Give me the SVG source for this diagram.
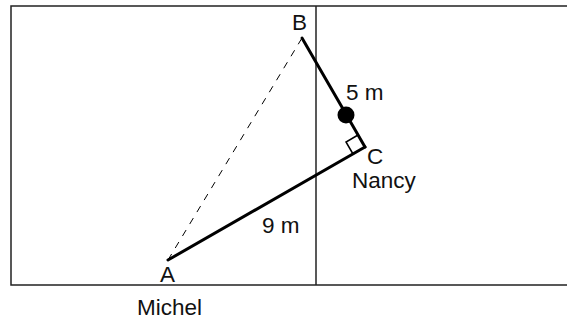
<svg xmlns="http://www.w3.org/2000/svg" width="567" height="320" viewBox="0 0 567 320">
<style>
.frame{fill:none;stroke:#222;stroke-width:1.5}
.thick{fill:none;stroke:#000;stroke-width:3;stroke-linecap:round}
.dash{fill:none;stroke:#000;stroke-width:1;stroke-dasharray:7 7}
.thin{fill:none;stroke:#000;stroke-width:1.5}
text{font-family:"Liberation Sans",Arial,sans-serif;font-size:22.5px;fill:#111}
</style>
<g id="frame">
<polyline class="frame" points="568,6 11,6 11,285 568,285"/>
<line class="frame" x1="316" y1="6" x2="316" y2="285"/>
</g>
<g id="connectors">
<line class="dash" x1="168" y1="260" x2="302" y2="38"/>
<line class="thick" x1="302" y1="38" x2="365" y2="147"/>
<line class="thick" x1="365" y1="147" x2="168" y2="260"/>
<polyline class="thin" points="358,135 346,142 353,154"/>
</g>
<g id="nancy-dot"><circle cx="346" cy="115" r="8.5" fill="#000"/></g>
<g id="labels">
<text x="292" y="30">B</text>
<text x="346" y="100">5 m</text>
<text x="367" y="164">C</text>
<text x="352" y="188">Nancy</text>
<text x="262" y="233">9 m</text>
<text x="160" y="282">A</text>
<text x="137" y="315">Michel</text>
</g>
</svg>
